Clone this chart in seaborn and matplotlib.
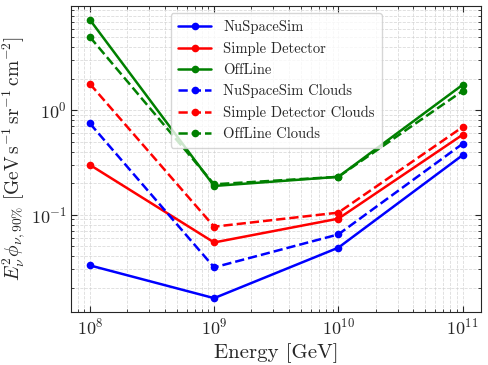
import numpy as np
import pandas as pd
import seaborn as sns
import matplotlib.pyplot as plt

energy = [1e8, 1e9, 1e10, 1e11]

nuspacesim = [0.0327, 0.0159, 0.0483, 0.370]
simple_det = [0.299, 0.0542, 0.0915, 0.580]
offline = [7.3, 0.188, 0.230, 1.74]
nuspacesim_clouds = [0.745, 0.0313, 0.0647, 0.475]
simple_det_clouds = [1.78, 0.0767, 0.1045, 0.687]
offline_clouds = [5.0, 0.195, 0.230, 1.52]

series = [
    ("NuSpaceSim", nuspacesim, "blue", "-"),
    ("Simple Detector", simple_det, "red", "-"),
    ("OffLine", offline, "green", "-"),
    ("NuSpaceSim Clouds", nuspacesim_clouds, "blue", "--"),
    ("Simple Detector Clouds", simple_det_clouds, "red", "--"),
    ("OffLine Clouds", offline_clouds, "green", "--"),
]

sns.set_style("ticks")
plt.rcParams["font.family"] = ["serif"]
plt.rcParams["font.serif"] = ["cmr10", "DejaVu Serif"]
plt.rcParams["mathtext.fontset"] = "cm"
plt.rcParams["axes.formatter.use_mathtext"] = True
plt.rcParams["axes.unicode_minus"] = False

fig, ax = plt.subplots(figsize=(4.88, 3.65), dpi=100)

for name, vals, color, ls in series:
    df = pd.DataFrame({"energy": energy, "flux": vals})
    sns.lineplot(data=df, x="energy", y="flux", ax=ax, color=color, linestyle=ls,
                 marker="o", markersize=5.5, markeredgewidth=0, linewidth=1.8, label=name)

ax.set_xscale("log")
ax.set_yscale("log")
ax.grid(True, which="both", color="0.8", linestyle="--", linewidth=0.6, alpha=0.7)
ax.tick_params(which="both", direction="in", top=True, right=True, labelsize=13)
ax.tick_params(which="major", length=4)
ax.tick_params(which="minor", length=2)
ax.tick_params(axis="y", pad=3)
for s in ax.spines.values():
    s.set_linewidth(0.8)

ax.set_xlabel("Energy [GeV]", fontsize=15)
ax.set_ylabel(r"$E_\nu^2 \phi_{\nu,90\%}\ [\mathrm{GeV\,s^{-1}\,sr^{-1}\,cm^{-2}}]$",
              fontsize=14, labelpad=2)
ax.legend(loc="upper center", fontsize=10.5, frameon=True, fancybox=True, framealpha=0.8,
          handlelength=2.3, borderpad=0.5, labelspacing=0.5)

fig.subplots_adjust(left=0.146, right=0.986, top=0.984, bottom=0.145)
fig.savefig("out.png", dpi=100)
